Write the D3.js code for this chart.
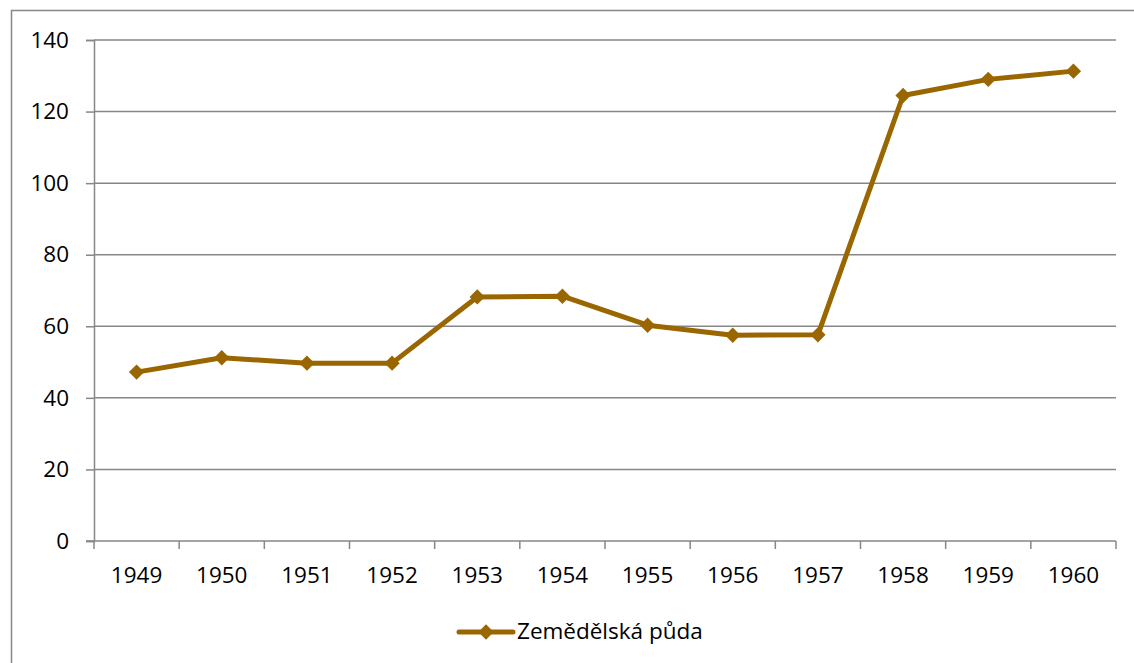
<!DOCTYPE html>
<html lang="cs">
<head>
<meta charset="UTF-8">
<title>Zemědělská půda</title>
<script src="https://d3js.org/d3.v7.min.js"></script>
<style>
    body { margin: 0; background: #fff; font-family: "Open Sans", "Noto Sans", sans-serif; }
    svg { display: block; }
</style>
</head>
<body>
<script>
    // data
    const years = ["1949", "1950", "1951", "1952", "1953", "1954", "1955", "1956", "1957", "1958", "1959", "1960"];
    const values = [47.2, 51.2, 49.7, 49.7, 68.2, 68.4, 60.3, 57.5, 57.6, 124.5, 129.0, 131.3];
    const yTicks = [0, 20, 40, 60, 80, 100, 120, 140];
    const seriesName = "Zemědělská půda";

    const width = 1134, height = 663;
    const margin = { left: 94, right: 18, top: 40, bottom: 122 };
    const lineColor = "#996600";
    const axisColor = "#878787";
    const fontSize = "22.5px";

    const svg = d3.select("body").append("svg")
        .attr("width", width)
        .attr("height", height);

    // outer chart border
    svg.append("rect")
        .attr("x", 11.5).attr("y", 10.5)
        .attr("width", width).attr("height", height)
        .attr("fill", "none")
        .attr("stroke", axisColor)
        .attr("stroke-width", 1.5);

    const x = d3.scaleBand()
        .domain(years)
        .range([margin.left, width - margin.right]);

    const y = d3.scaleLinear()
        .domain([0, 140])
        .range([height - margin.bottom, margin.top]);

    // gridlines + y axis
    const yAxis = svg.append("g")
        .attr("transform", `translate(${margin.left},0)`)
        .call(d3.axisLeft(y).tickValues(yTicks).tickSize(8).tickPadding(17));
    yAxis.select(".domain").attr("stroke", axisColor).attr("stroke-width", 1.5);
    yAxis.selectAll(".tick line").attr("stroke", axisColor).attr("stroke-width", 1.5);
    yAxis.selectAll(".tick text")
        .attr("fill", "#000")
        .style("font-size", fontSize)
        .style("font-family", "'Open Sans', sans-serif");

    svg.append("g")
        .selectAll("line")
        .data(yTicks.filter(d => d > 0))
        .join("line")
        .attr("x1", margin.left)
        .attr("x2", width - margin.right)
        .attr("y1", d => y(d))
        .attr("y2", d => y(d))
        .attr("stroke", axisColor)
        .attr("stroke-width", 1.5);

    // x axis with ticks at category boundaries
    const xg = svg.append("g")
        .attr("transform", `translate(0,${y(0)})`);
    xg.append("line")
        .attr("x1", margin.left - 8).attr("x2", width - margin.right)
        .attr("stroke", axisColor).attr("stroke-width", 1.5);
    xg.selectAll(".bound")
        .data(years.concat(["end"]))
        .join("line")
        .attr("class", "bound")
        .attr("x1", (d, i) => margin.left + i * x.step())
        .attr("x2", (d, i) => margin.left + i * x.step())
        .attr("y1", 0).attr("y2", 8)
        .attr("stroke", axisColor).attr("stroke-width", 1.5);
    xg.selectAll("text")
        .data(years)
        .join("text")
        .attr("x", d => x(d) + x.bandwidth() / 2)
        .attr("y", 42)
        .attr("text-anchor", "middle")
        .style("font-size", fontSize)
        .text(d => d);

    // series line
    const line = d3.line()
        .x((d, i) => x(years[i]) + x.bandwidth() / 2)
        .y(d => y(d));

    svg.append("path")
        .datum(values)
        .attr("d", line)
        .attr("fill", "none")
        .attr("stroke", lineColor)
        .attr("stroke-width", 5)
        .attr("stroke-linejoin", "round");

    const diamond = d3.symbol().type(d3.symbolDiamond2).size(150);

    svg.append("g")
        .selectAll("path")
        .data(values)
        .join("path")
        .attr("d", diamond)
        .attr("transform", (d, i) => `translate(${x(years[i]) + x.bandwidth() / 2},${y(d)})`)
        .attr("fill", lineColor);

    // legend
    const lg = svg.append("g").attr("transform", "translate(459,632)");
    lg.append("line")
        .attr("x1", 0).attr("x2", 54)
        .attr("stroke", lineColor)
        .attr("stroke-width", 5)
        .attr("stroke-linecap", "round");
    lg.append("path")
        .attr("d", diamond)
        .attr("transform", "translate(27,0)")
        .attr("fill", lineColor);
    lg.append("text")
        .attr("x", 58)
        .attr("y", 7)
        .style("font-size", fontSize)
        .text(seriesName);
</script>
</body>
</html>
